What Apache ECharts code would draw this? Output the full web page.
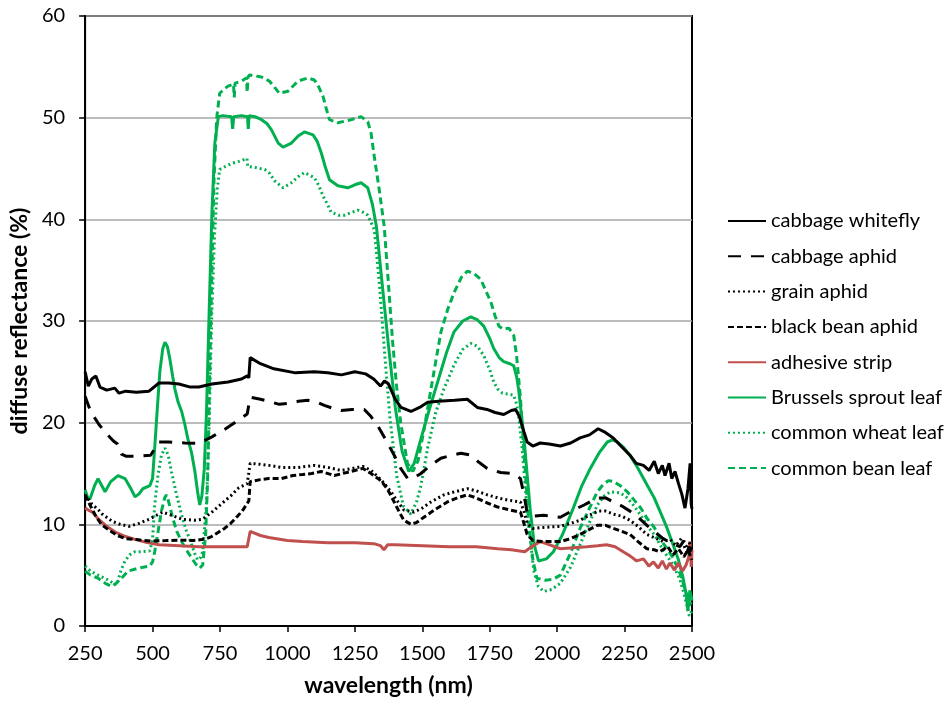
<!DOCTYPE html>
<html>
<head>
<meta charset="utf-8">
<script src="https://cdn.jsdelivr.net/npm/echarts@6/dist/echarts.min.js"></script>
<style>html,body{margin:0;padding:0;background:#fff}#c{width:949px;height:702px}</style>
</head>
<body>
<div id="c"></div>
<script>
const seriesNames = ["cabbage whitefly","cabbage aphid","grain aphid","black bean aphid","adhesive strip","Brussels sprout leaf","common wheat leaf","common bean leaf"];
const xTicks = [250,500,750,1000,1250,1500,1750,2000,2250,2500];
const yTicks = [0,10,20,30,40,50,60];

const cabbageWhitefly = [[250,25.0],[262,23.6],[275,24.3],[290,24.6],[305,23.5],[330,23.2],[360,23.4],[376,22.9],[400,23.1],[440,23.0],[487,23.1],[524,23.9],[560,23.9],[598,23.8],[640,23.5],[672,23.5],[720,23.8],[780,24.0],[830,24.3],[851,24.6],[857,24.4],[862,26.4],[900,25.8],[950,25.3],[1030,24.9],[1100,25.0],[1150,24.9],[1200,24.7],[1250,25.0],[1290,24.8],[1320,24.3],[1345,23.6],[1360,24.1],[1375,23.8],[1400,22.3],[1421,21.5],[1458,21.1],[1490,21.5],[1520,22.0],[1560,22.1],[1620,22.2],[1667,22.3],[1704,21.5],[1740,21.3],[1770,21.0],[1802,20.8],[1830,21.2],[1846,21.3],[1860,20.6],[1878,19.0],[1889,18.1],[1910,17.7],[1937,18.0],[1970,17.9],[2012,17.7],[2050,18.0],[2085,18.5],[2120,18.8],[2152,19.4],[2175,19.1],[2208,18.5],[2240,17.6],[2270,16.8],[2293,16.0],[2320,15.8],[2341,15.3],[2360,16.2],[2375,15.0],[2390,15.8],[2400,14.8],[2415,16.0],[2425,14.5],[2437,15.2],[2450,14.0],[2462,13.0],[2474,11.6],[2485,13.5],[2493,16.0],[2497,12.0],[2500,11.5]];

const cabbageAphid = [[250,22.6],[265,21.5],[285,20.5],[302,19.8],[330,18.9],[355,18.2],[370,17.9],[385,16.9],[401,16.7],[450,16.7],[493,16.8],[510,17.5],[524,18.1],[560,18.1],[620,18.0],[672,17.95],[720,18.6],[771,19.4],[810,20.1],[851,20.85],[857,20.9],[862,22.5],[900,22.3],[931,22.1],[970,21.8],[1006,21.9],[1040,22.1],[1076,22.2],[1110,22.0],[1137,21.7],[1170,21.4],[1199,21.2],[1240,21.3],[1285,21.3],[1310,20.6],[1335,19.7],[1365,18.3],[1396,16.8],[1420,15.5],[1446,14.5],[1470,14.6],[1495,15.0],[1530,15.8],[1569,16.5],[1610,16.8],[1643,17.0],[1680,16.8],[1710,16.1],[1741,15.5],[1790,15.1],[1839,15.0],[1864,14.5],[1878,12.8],[1889,11.1],[1913,10.8],[1950,10.9],[2012,10.7],[2060,11.4],[2100,11.9],[2149,12.6],[2180,12.6],[2208,12.2],[2240,11.8],[2270,11.3],[2300,10.7],[2333,9.9],[2360,9.3],[2393,8.6],[2420,8.2],[2455,7.8],[2470,8.4],[2480,7.2],[2490,7.8],[2500,7.0]];

const grainAphid = [[250,12.9],[275,12.0],[300,11.4],[314,11.0],[350,10.3],[380,10.0],[413,9.8],[450,10.1],[487,10.5],[537,11.2],[570,10.9],[610,10.5],[656,10.4],[685,10.5],[720,11.2],[759,12.1],[790,12.8],[820,13.6],[851,14.0],[857,14.1],[862,16.0],[900,15.9],[931,15.8],[978,15.6],[1040,15.6],[1100,15.8],[1150,15.6],[1199,15.3],[1240,15.5],[1280,15.7],[1310,15.3],[1335,14.7],[1360,14.0],[1384,13.2],[1410,12.2],[1432,11.4],[1469,11.2],[1500,11.6],[1532,12.2],[1580,12.9],[1620,13.2],[1667,13.5],[1700,13.3],[1741,12.9],[1780,12.6],[1815,12.4],[1864,12.2],[1878,11.2],[1889,10.1],[1910,9.6],[1950,9.7],[2012,9.8],[2050,10.1],[2085,10.4],[2120,10.9],[2152,11.3],[2180,11.3],[2208,11.0],[2240,10.8],[2270,10.4],[2300,9.8],[2333,9.0],[2360,8.7],[2393,8.3],[2420,8.5],[2440,7.9],[2460,8.6],[2475,7.6],[2490,8.2],[2500,7.5]];

const blackBeanAphid = [[250,12.9],[270,11.8],[290,10.8],[310,10.0],[340,9.4],[370,8.9],[400,8.6],[440,8.5],[493,8.35],[550,8.4],[600,8.45],[650,8.4],[682,8.5],[700,8.6],[719,8.8],[743,9.2],[767,9.6],[790,10.1],[815,10.8],[835,11.4],[852,12.1],[857,12.3],[862,14.2],[900,14.4],[931,14.5],[978,14.5],[1020,14.8],[1056,14.9],[1090,15.0],[1125,15.2],[1174,14.8],[1220,15.1],[1280,15.5],[1310,15.0],[1347,14.3],[1370,13.5],[1396,12.2],[1415,11.2],[1432,10.4],[1458,10.0],[1480,10.2],[1506,10.7],[1550,11.5],[1593,12.2],[1630,12.6],[1667,12.9],[1700,12.6],[1741,12.1],[1780,11.7],[1827,11.4],[1864,11.2],[1878,10.0],[1889,9.0],[1910,8.4],[1950,8.3],[2012,8.3],[2050,8.6],[2085,9.0],[2120,9.5],[2149,9.9],[2180,9.9],[2208,9.6],[2240,9.3],[2270,9.0],[2300,8.3],[2333,7.6],[2360,7.5],[2381,7.3],[2410,7.8],[2430,7.0],[2450,7.6],[2470,6.8],[2485,7.5],[2500,6.5]];

const adhesiveStrip = [[250,11.6],[262,11.4],[277,11.2],[300,10.5],[330,9.8],[364,9.2],[400,8.8],[438,8.5],[480,8.2],[524,8.0],[600,7.9],[672,7.8],[760,7.8],[851,7.8],[857,7.8],[862,9.3],[900,8.9],[931,8.7],[1000,8.4],[1056,8.3],[1150,8.2],[1250,8.2],[1320,8.1],[1345,7.9],[1358,7.5],[1372,8.0],[1400,8.0],[1500,7.9],[1600,7.8],[1700,7.8],[1780,7.6],[1830,7.5],[1880,7.3],[1905,7.8],[1937,8.3],[1970,8.0],[2012,7.6],[2060,7.7],[2110,7.8],[2150,7.9],[2183,8.0],[2215,7.8],[2245,7.3],[2270,6.9],[2295,6.4],[2320,6.6],[2340,5.9],[2357,6.3],[2375,5.7],[2390,6.4],[2405,5.6],[2418,6.2],[2435,5.5],[2450,6.2],[2465,5.4],[2478,6.0],[2488,6.8],[2493,8.3],[2497,5.8],[2500,7.5]];

const brusselsSproutLeaf = [[250,13.4],[260,12.6],[268,12.5],[285,13.8],[298,14.5],[312,13.8],[324,13.2],[345,14.2],[372,14.8],[398,14.5],[420,13.5],[435,12.7],[450,13.0],[464,13.5],[490,13.8],[500,14.5],[508,17.5],[518,21.5],[527,25.0],[538,27.3],[546,27.9],[555,27.5],[564,26.3],[575,24.5],[583,23.3],[595,22.0],[608,21.1],[620,19.8],[631,18.4],[645,17.0],[657,15.2],[667,13.2],[675,11.9],[683,12.8],[692,15.5],[700,21.0],[710,31.0],[720,40.5],[731,47.5],[744,50.1],[760,50.2],[793,50.1],[797,48.9],[801,50.1],[830,50.2],[852,50.1],[855,48.9],[858,50.2],[880,50.1],[904,49.8],[925,49.4],[941,48.8],[966,47.5],[984,47.1],[1015,47.5],[1040,48.2],[1063,48.6],[1095,48.3],[1110,47.7],[1126,46.5],[1140,45.2],[1156,43.9],[1187,43.3],[1224,43.1],[1250,43.4],[1273,43.6],[1298,43.1],[1315,41.5],[1330,39.3],[1350,34.0],[1375,27.5],[1400,21.5],[1425,17.2],[1450,15.2],[1470,16.0],[1495,18.4],[1525,21.2],[1557,24.0],[1590,26.9],[1617,28.9],[1650,30.0],[1680,30.4],[1705,30.1],[1728,29.5],[1750,28.3],[1765,27.3],[1785,26.4],[1802,26.0],[1825,25.8],[1839,25.6],[1850,24.5],[1857,23.3],[1876,18.8],[1900,11.5],[1915,8.0],[1931,6.4],[1960,6.6],[1986,7.3],[2020,9.0],[2060,11.6],[2090,13.7],[2123,15.5],[2155,17.0],[2186,18.1],[2205,18.3],[2223,18.1],[2245,17.6],[2270,16.8],[2300,15.5],[2333,13.9],[2360,12.6],[2381,11.3],[2405,9.8],[2430,8.0],[2450,6.5],[2467,4.7],[2478,3.2],[2485,1.5],[2492,3.5],[2500,2.5]];

const commonWheatLeaf = [[250,5.9],[270,5.4],[298,5.0],[330,4.6],[355,4.2],[368,4.05],[383,5.5],[398,6.4],[415,7.0],[435,7.3],[460,7.3],[490,7.4],[500,8.5],[508,11.9],[520,14.8],[533,16.8],[546,17.5],[558,16.8],[570,15.2],[590,12.8],[608,10.9],[625,9.4],[645,8.0],[657,7.1],[667,6.5],[677,6.7],[686,7.3],[700,12.0],[710,20.0],[720,31.0],[730,38.5],[740,43.0],[749,44.9],[770,45.2],[793,45.5],[820,45.7],[842,45.9],[850,46.0],[853,45.2],[880,45.1],[916,44.9],[935,44.5],[952,43.8],[984,43.1],[1015,43.6],[1040,44.2],[1063,44.6],[1100,44.1],[1115,43.4],[1132,42.3],[1150,41.4],[1162,40.7],[1190,40.4],[1211,40.4],[1240,40.7],[1261,40.9],[1280,40.7],[1298,40.4],[1322,39.0],[1340,34.0],[1360,27.0],[1380,20.5],[1405,14.8],[1430,11.8],[1458,11.0],[1480,12.3],[1495,13.8],[1520,17.5],[1550,21.0],[1580,23.3],[1620,25.8],[1650,27.2],[1680,27.8],[1705,27.5],[1728,26.6],[1750,25.2],[1765,24.0],[1780,23.3],[1797,22.9],[1820,22.8],[1839,22.7],[1850,21.8],[1857,20.7],[1870,17.5],[1890,11.0],[1913,5.5],[1930,3.9],[1950,3.4],[1980,3.6],[2012,4.2],[2050,5.8],[2085,8.0],[2120,10.2],[2149,11.9],[2175,12.8],[2197,13.2],[2234,13.1],[2260,12.6],[2282,11.9],[2310,10.9],[2333,9.9],[2360,9.0],[2381,8.0],[2405,7.0],[2430,6.0],[2455,4.6],[2470,3.2],[2480,2.1],[2490,1.0],[2500,1.5]];

const commonBeanLeaf = [[250,5.4],[270,5.0],[298,4.7],[325,4.2],[349,3.9],[365,4.2],[385,4.7],[409,5.4],[450,5.7],[490,5.9],[500,6.3],[508,7.3],[520,9.2],[533,11.3],[545,12.6],[552,12.9],[562,12.0],[575,10.6],[590,9.3],[608,8.3],[625,7.5],[645,6.7],[660,6.1],[675,5.7],[686,6.0],[697,9.0],[705,15.0],[712,25.0],[720,35.0],[728,44.0],[738,50.0],[749,52.4],[765,52.8],[780,53.1],[800,53.3],[803,52.0],[806,53.4],[830,53.6],[848,53.9],[851,52.5],[854,54.0],[860,54.2],[904,54.0],[933,53.6],[955,52.9],[970,52.4],[1002,52.6],[1039,53.6],[1076,53.9],[1100,53.7],[1113,53.2],[1132,52.1],[1145,50.8],[1156,49.8],[1187,49.5],[1236,49.8],[1273,50.1],[1298,49.6],[1310,48.5],[1322,46.2],[1340,43.0],[1359,39.3],[1375,33.5],[1390,28.0],[1405,23.5],[1420,20.0],[1445,16.0],[1465,15.2],[1485,16.3],[1507,19.4],[1540,24.5],[1569,28.9],[1595,31.2],[1618,32.8],[1645,34.3],[1667,34.9],[1690,34.7],[1717,34.1],[1735,33.0],[1754,31.9],[1770,30.5],[1784,29.5],[1800,29.2],[1821,29.3],[1839,28.6],[1850,26.5],[1864,22.4],[1876,17.5],[1895,10.0],[1910,6.5],[1925,4.7],[1956,4.5],[1985,4.6],[2012,5.0],[2050,7.2],[2085,9.6],[2120,11.6],[2149,13.2],[2170,13.9],[2190,14.3],[2210,14.2],[2234,13.8],[2260,13.2],[2282,12.5],[2310,11.6],[2333,10.6],[2360,9.7],[2381,8.6],[2405,7.7],[2430,6.7],[2455,5.2],[2470,4.0],[2480,3.1],[2490,2.0],[2500,2.5]];

const seriesData = [cabbageWhitefly, cabbageAphid, grainAphid, blackBeanAphid, adhesiveStrip, brusselsSproutLeaf, commonWheatLeaf, commonBeanLeaf];
const seriesColors = ['#000000','#000000','#000000','#000000','#C0504D','#00B050','#00B050','#00B050'];
const seriesDash = ['solid',[13,10],[2,3],[6,3],'solid','solid',[2,3],[7,4]];

const FONT = 'Lato';
const chart = echarts.init(document.getElementById('c'), null, {renderer:'canvas'});
chart.setOption({
  animation: false,
  backgroundColor: '#fff',
  grid: {left: 83, right: 257, top: 16, bottom: 74, show: true, borderColor: '#000', borderWidth: 2},
  legend: {
    orient: 'vertical', left: 727, top: 211, padding: 0,
    itemWidth: 38, itemHeight: 14, itemGap: 15.3,
    data: seriesNames,
    itemStyle: {color: 'rgba(0,0,0,0)', borderColor: 'rgba(0,0,0,0)', borderWidth: 0},
    textStyle: {fontFamily: FONT, fontSize: 20, color: '#000', lineHeight: 20}
  },
  xAxis: {
    type: 'value', min: 250, max: 2500, interval: 250,
    name: 'wavelength (nm)', nameLocation: 'middle', nameGap: 48,
    nameTextStyle: {fontFamily: FONT, fontSize: 23, fontWeight: 'bold', color: '#000'},
    axisLine: {lineStyle: {color: '#000', width: 2}},
    axisTick: {show: true, inside: false, length: 6, lineStyle: {color: '#000', width: 1.5}},
    axisLabel: {fontFamily: FONT, fontSize: 20, color: '#000', margin: 18, formatter: v => xTicks.includes(v) ? String(v) : ''},
    splitLine: {show: false}
  },
  yAxis: {
    type: 'value', min: 0, max: 60, interval: 10,
    name: 'diffuse reflectance (%)', nameLocation: 'middle', nameGap: 50,
    nameTextStyle: {fontFamily: FONT, fontSize: 23, fontWeight: 'bold', color: '#000'},
    axisLine: {lineStyle: {color: '#000', width: 2}},
    axisTick: {show: true, inside: false, length: 6, lineStyle: {color: '#000', width: 1.5}},
    axisLabel: {fontFamily: FONT, fontSize: 20, color: '#000', margin: 20, formatter: v => yTicks.includes(v) ? String(v) : ''},
    splitLine: {show: true, lineStyle: {color: '#A6A6A6', width: 1.5}}
  },
  series: seriesNames.map((n, i) => ({
    name: n, type: 'line', data: seriesData[i], showSymbol: false, symbol: 'none',
    smooth: false, z: 10 - i,
    lineStyle: {color: seriesColors[i], width: 3, type: seriesDash[i]},
    itemStyle: {color: seriesColors[i]}
  }))
});
</script>
</body>
</html>
